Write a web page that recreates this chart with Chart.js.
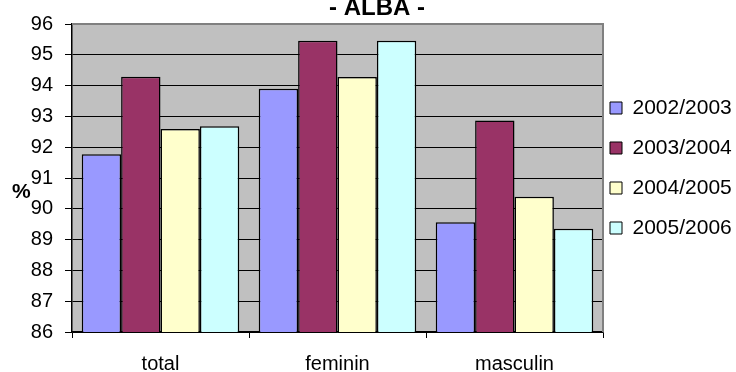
<!DOCTYPE html>
<html>
<head>
<meta charset="utf-8">
<script src="https://cdn.jsdelivr.net/npm/chart.js@4"></script>
<style>
  html, body { margin: 0; padding: 0; background: #fff; }
  #wrap { width: 736px; height: 372px; }
</style>
</head>
<body>
<div id="wrap"><canvas id="canvas" width="736" height="372"></canvas></div>
<script>
var categories = ['total', 'feminin', 'masculin'];
var years = ['2002/2003', '2003/2004', '2004/2005', '2005/2006'];
var s2002 = [91.77, 93.9, 89.56];
var s2003 = [94.29, 95.46, 92.87];
var s2004 = [92.59, 94.28, 90.39];
var s2005 = [92.68, 95.46, 89.35];
var yTicks = [86, 87, 88, 89, 90, 91, 92, 93, 94, 95, 96];

var colors = ['#9999FF', '#993366', '#FFFFCC', '#CCFFFF'];
var FONT = 'Liberation Sans, Arial, sans-serif';

// grey plot area, grey frame on top/right, and the "%" label
var plotBox = {
  id: 'plotBox',
  beforeDraw: function(chart) {
    var a = chart.chartArea, ctx = chart.ctx;
    ctx.save();
    ctx.fillStyle = '#C0C0C0';
    ctx.fillRect(a.left, a.top, a.right - a.left, a.bottom - a.top);
    ctx.restore();
  },
  beforeDatasetsDraw: function(chart) {
    var a = chart.chartArea, ctx = chart.ctx;
    ctx.save();
    ctx.strokeStyle = '#808080';
    ctx.lineWidth = 2;
    ctx.beginPath();
    ctx.moveTo(a.left, a.top);
    ctx.lineTo(a.right, a.top);
    ctx.lineTo(a.right, a.bottom);
    ctx.stroke();
    ctx.restore();
  },
  afterDraw: function(chart) {
    var ctx = chart.ctx;
    ctx.save();
    ctx.font = 'bold 21px ' + FONT;
    ctx.fillStyle = '#000';
    ctx.textAlign = 'left';
    ctx.textBaseline = 'middle';
    ctx.fillText('%', 12, 192);
    ctx.restore();
  }
};

// keep the legend narrow and nudge it next to the plot
var legendPlace = {
  id: 'legendPlace',
  beforeLayout: function(chart) {
    var lg = chart.legend;
    if (lg && !lg.fitPatched) {
      var fit = lg.fit;
      lg.fit = function() { fit.call(this); this.width = 151; };
      lg.fitPatched = true;
    }
  },
  afterLayout: function(chart) {
    var lg = chart.legend;
    lg.left -= 12; lg.right -= 12;
    lg.top -= 18; lg.bottom -= 18;
  }
};

function makeSets() {
  var series = [s2002, s2003, s2004, s2005];
  return years.map(function(y, i) {
    return {
      label: y,
      data: series[i],
      backgroundColor: colors[i],
      borderColor: '#000',
      borderWidth: 1.5,
      categoryPercentage: 0.89,
      barPercentage: 1
    };
  });
}

function printChart() {
  var ctx = document.getElementById('canvas').getContext('2d');
  new Chart(ctx, {
    type: 'bar',
    data: { labels: categories, datasets: makeSets() },
    options: {
      responsive: false,
      animation: false,
      layout: { padding: { left: 0, right: -18, top: 0, bottom: 0 } },
      plugins: {
        title: {
          display: true,
          text: '- ALBA -',
          color: '#000',
          font: { family: FONT, size: 24, weight: 'bold' },
          padding: { top: -6, bottom: 1.2 }
        },
        legend: {
          position: 'right',
          labels: {
            color: '#000',
            font: { family: FONT, size: 21 },
            boxWidth: 12,
            boxHeight: 12,
            padding: 19,
            generateLabels: function(chart) {
              return chart.data.datasets.map(function(ds, i) {
                return {
                  text: ds.label,
                  fillStyle: ds.backgroundColor,
                  strokeStyle: '#000',
                  lineWidth: 1,
                  datasetIndex: i
                };
              });
            }
          }
        },
        tooltip: { enabled: false }
      },
      scales: {
        x: {
          grid: { offset: true, drawOnChartArea: false, drawTicks: true, tickLength: 6, color: '#000' },
          border: { color: '#000', width: 1.5 },
          ticks: { color: '#000', font: { family: FONT, size: 20 }, padding: 14 },
          afterFit: function(s) { s.height = 40; }
        },
        y: {
          min: 86,
          max: 96,
          afterBuildTicks: function(s) { s.ticks = yTicks.map(function(v) { return { value: v }; }); },
          grid: { color: '#000', lineWidth: 1, tickLength: 7 },
          border: { color: '#000', width: 1.5 },
          ticks: { color: '#000', font: { family: FONT, size: 20 }, padding: 12 },
          afterFit: function(s) { s.width = 72; }
        }
      }
    },
    plugins: [plotBox, legendPlace]
  });
}

printChart();
</script>
</body>
</html>
